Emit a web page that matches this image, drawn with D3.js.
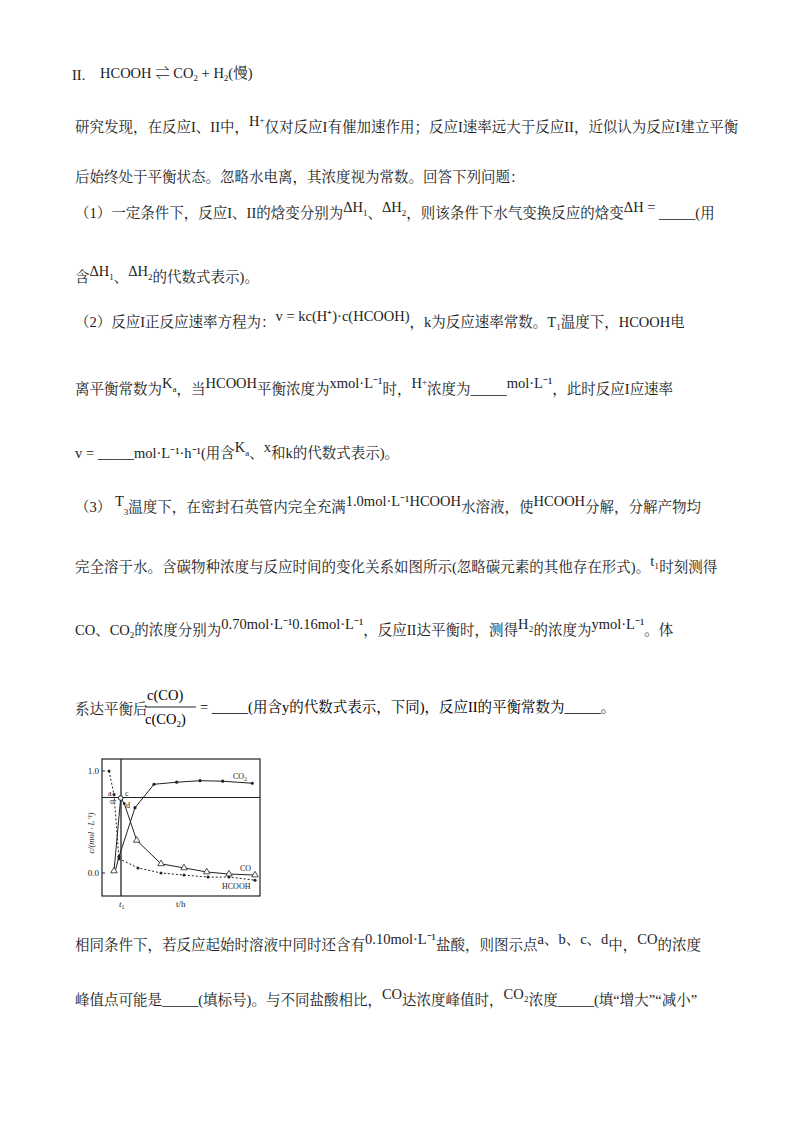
<!DOCTYPE html>
<html><head><meta charset="utf-8">
<script src="https://cdn.jsdelivr.net/npm/d3@7"></script>
<style>body{margin:0;background:#fff}</style></head>
<body><svg id="c" width="800" height="1132"></svg>
<script>
// ---- chart data ----
const hcoohT=[7,12,17,36,59,82,106,127,153];
const hcoohV=[1.0,0.77,0.14,0.05,0.0,-0.02,-0.04,-0.04,-0.07];
const coT=[12,18.7,22.3,34.7,59,82,104.7,127,153];
const coV=[0.02,0.735,0.68,0.32,0.09,0.05,0.01,-0.01,-0.02];
const co2T=[13,17,33,52,74.7,98,120.7,150.3];
const co2V=[0.01,0.16,0.64,0.87,0.89,0.905,0.90,0.88];
const yTicks=[0.0,1.0];
const t1=19, hLine=0.74;
// ---- page text ----
const lines=[
 [72,80,"II. "],
 [100,78,"HCOOH ⇌ CO_{2} + H_{2}(慢)"],
 [75,132,"研究发现，在反应I、II中，^{H}^{+}仅对反应I有催加速作用；反应I速率远大于反应II，近似认为反应I建立平衡"],
 [75,182,"后始终处于平衡状态。忽略水电离，其浓度视为常数。回答下列问题："],
 [75,218,"（1）一定条件下，反应I、II的焓变分别为^{ΔH}^{_1}、^{ΔH}^{_2}，则该条件下水气变换反应的焓变^{ΔH =} _____(用"],
 [75,282,"含^{ΔH}^{_1}、^{ΔH}^{_2}的代数式表示)。"],
 [75,327,"（2）反应I正反应速率方程为：^{v = kc(H⁺)·c(HCOOH)}，k为反应速率常数。T_{1}温度下，HCOOH电"],
 [75,394,"离平衡常数为^{K}^{_a}，当^{HCOOH}平衡浓度为^{xmol·L⁻¹}时，^{H}^{+}浓度为_____^{mol·L⁻¹}，此时反应I应速率"],
 [75,458,"v = _____mol·L⁻¹·h⁻¹(用含^{K}^{_a}、^{x}和k的代数式表示)。"],
 [75,512,"（3） ^{T}_{3}温度下，在密封石英管内完全充满^{1.0mol·L⁻¹HCOOH}水溶液，使^{HCOOH}分解，分解产物均"],
 [75,572,"完全溶于水。含碳物种浓度与反应时间的变化关系如图所示(忽略碳元素的其他存在形式)。^{t₁}时刻测得"],
 [75,635,"CO、CO_{2}的浓度分别为^{0.70mol·L⁻¹0.16mol·L⁻¹}，反应II达平衡时，测得^{H₂}的浓度为^{ymol·L⁻¹}。体"],
 [75,714,"系达平衡后"],
 [75,950,"相同条件下，若反应起始时溶液中同时还含有^{0.10mol·L⁻¹}盐酸，则图示点^{a、b、c、d}中，^{CO}的浓度"],
 [75,1005,"峰值点可能是_____(填标号)。与不同盐酸相比，^{CO}达浓度峰值时，^{CO₂}浓度_____(填“增大”“减小”"]
];
const svg=d3.select("#c");
const FF="'Liberation Serif','Noto Serif CJK SC','Noto Sans CJK SC',serif";
lines.forEach(([x,y,s])=>{
  const t=svg.append("text").attr("x",x).attr("y",y).attr("font-family",FF).attr("font-size",14.5).attr("fill","#222");
  const re=/(\^\{[^}]*\}|_\{[^}]*\}|[^^_]+|[\^_])/g; let m, cur=0;
  while((m=re.exec(s))){
    let seg=m[0], off=0, fs=14.5;
    if(seg.startsWith("^{")){seg=seg.slice(2,-1);off=-6; if(seg.startsWith("_")){seg=seg.slice(1);off=-2;fs=9;} else if(seg==="+"){off=-9;fs=9;}}
    else if(seg.startsWith("_{")){seg=seg.slice(2,-1);off=3;fs=9;}
    t.append("tspan").attr("font-size",fs).attr("dy",off-cur).text(seg);
    cur=off;
  }
});
// fraction c(CO)/c(CO2)
svg.append("text").attr("x",147).attr("y",700).attr("font-family",FF).attr("font-size",14.5).text("c(CO)");
svg.append("line").attr("x1",145).attr("x2",196).attr("y1",707).attr("y2",707).attr("stroke","#222");
const ft=svg.append("text").attr("x",145).attr("y",724).attr("font-family",FF).attr("font-size",14.5).text("c(CO");
ft.append("tspan").attr("font-size",9).attr("dy",3).text("2");ft.append("tspan").attr("dy",-3).text(")");
svg.append("text").attr("x",200).attr("y",712).attr("font-family",FF).attr("font-size",14.5).text("= _____(用含y的代数式表示，下同)，反应II的平衡常数为_____。");

// ---- chart ----
const x=d3.scaleLinear().domain([0,158]).range([102,260]);
const y=d3.scaleLinear().domain([0,1]).range([873,771]);
const g=svg.append("g").attr("font-family","'Liberation Serif',serif").attr("fill","#222");
g.append("rect").attr("x",102).attr("y",759).attr("width",158).attr("height",137).attr("fill","none").attr("stroke","#222").attr("stroke-width",1.2);
g.append("line").attr("x1",x(t1)).attr("x2",x(t1)).attr("y1",759).attr("y2",896).attr("stroke","#222").attr("stroke-width",1.3);
g.append("line").attr("x1",102).attr("x2",260).attr("y1",y(hLine)).attr("y2",y(hLine)).attr("stroke","#222").attr("stroke-width",1.1);
yTicks.forEach(v=>{
  g.append("line").attr("x1",102).attr("x2",105).attr("y1",y(v)).attr("y2",y(v)).attr("stroke","#222");
  g.append("text").attr("x",99).attr("y",y(v)+3).attr("text-anchor","end").attr("font-size",9).text(v.toFixed(1));
});
g.append("text").attr("transform","translate(94,833) rotate(-90)").attr("text-anchor","middle").attr("font-size",8.5).attr("font-style","italic").text("c/(mol · L⁻¹)");
const tl=g.append("text").attr("x",119).attr("y",907).attr("font-size",9).attr("font-style","italic").text("t");
tl.append("tspan").attr("font-size",6).attr("dy",2).attr("font-style","normal").text("1");
g.append("text").attr("x",176).attr("y",907).attr("font-size",9).text("t/h");
const ln=d3.line().x(d=>x(d[0])).y(d=>y(d[1]));
const H=hcoohT.map((t,i)=>[t,hcoohV[i]]), C=coT.map((t,i)=>[t,coV[i]]), C2=co2T.map((t,i)=>[t,co2V[i]]);
g.append("path").attr("d",ln(H)).attr("fill","none").attr("stroke","#222").attr("stroke-dasharray","2,2");
g.append("path").attr("d",ln(C)).attr("fill","none").attr("stroke","#222");
g.append("path").attr("d",ln(C2)).attr("fill","none").attr("stroke","#222");
g.selectAll(".h").data(H).join("circle").attr("cx",d=>x(d[0])).attr("cy",d=>y(d[1])).attr("r",1.5).attr("fill","#222");
g.selectAll(".c2").data(C2.slice(1)).join("circle").attr("cx",d=>x(d[0])).attr("cy",d=>y(d[1])).attr("r",1.6).attr("fill","#222");
const tri=d3.symbol().type(d3.symbolTriangle).size(18);
g.selectAll(".co").data(C.filter((d,i)=>i!==1&&i!==2)).join("path").attr("d",tri).attr("transform",d=>`translate(${x(d[0])},${y(d[1])})`).attr("fill","#fff").attr("stroke","#222").attr("stroke-width",0.8);
g.append("circle").attr("cx",x(coT[1])).attr("cy",y(coV[1])).attr("r",2.3).attr("fill","#fff").attr("stroke","#222");
g.append("circle").attr("cx",x(coT[2])).attr("cy",y(coV[2])).attr("r",1.4).attr("fill","#222");
[["a",108,796],["c",125,796],["d",126,808]].forEach(([s,a,b])=>g.append("text").attr("x",a).attr("y",b).attr("font-size",8).text(s));
g.append("text").attr("transform","translate(110,800) rotate(90)").attr("font-size",8).text("b");
const l2=g.append("text").attr("x",233).attr("y",779).attr("font-size",8).text("CO");l2.append("tspan").attr("font-size",5.5).attr("dy",2).text("2");
g.append("text").attr("x",240).attr("y",871).attr("font-size",8).text("CO");
g.append("text").attr("x",222).attr("y",889).attr("font-size",8).text("HCOOH");
</script></body></html>
